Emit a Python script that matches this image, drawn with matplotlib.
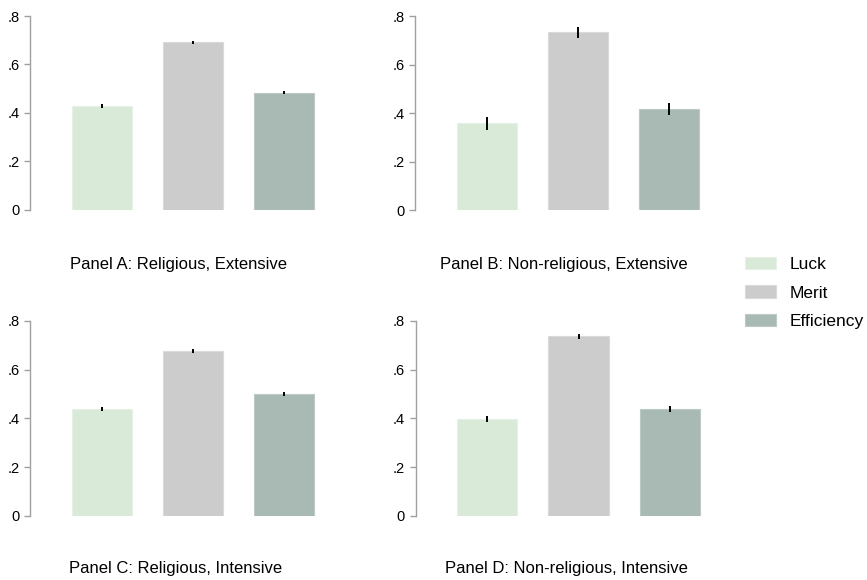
import matplotlib
matplotlib.use("Agg")
import matplotlib.pyplot as plt
from matplotlib.patches import Patch

plt.rcParams['font.family'] = ['Liberation Sans', 'DejaVu Sans']

categories = ["Luck", "Merit", "Efficiency"]
colors = ["#d9ead9", "#cccccc", "#a8bab3"]
edges = ["#e6f1e6", "#dadada", "#bccac4"]

panel_titles = ["Panel A: Religious, Extensive",
                "Panel B: Non-religious, Extensive",
                "Panel C: Religious, Intensive",
                "Panel D: Non-religious, Intensive"]

# mean shares and half-width of the confidence interval, per panel
means_a = [0.429, 0.691, 0.484]
err_a = [0.007, 0.005, 0.006]
means_b = [0.358, 0.733, 0.418]
err_b = [0.025, 0.022, 0.025]
means_c = [0.438, 0.677, 0.499]
err_c = [0.009, 0.007, 0.008]
means_d = [0.398, 0.737, 0.437]
err_d = [0.013, 0.010, 0.012]

yticks = [0, 0.2, 0.4, 0.6, 0.8]
ytick_labels = ["0", ".2", ".4", ".6", ".8"]

W, H = 867, 580
fig = plt.figure(figsize=(W / 100, H / 100), dpi=100)

# axes boxes in pixels: left, top (value .8), bottom (value 0)
boxes = [(30, 16, 210), (415, 16, 210.5), (30, 321, 515.7), (415.5, 321, 515.7)]
title_pos = [(178, 265), (564, 265), (176, 568), (566, 568)]
axw = 326

for i, (means, errs) in enumerate([(means_a, err_a), (means_b, err_b),
                                   (means_c, err_c), (means_d, err_d)]):
    left, top, bot = boxes[i]
    ax = fig.add_axes([left / W, 1 - bot / H, axw / W, (bot - top) / H])
    x = range(len(categories))
    ax.bar(x, means, width=0.66, color=colors, edgecolor=edges, linewidth=0.8)
    ax.errorbar(x, means, yerr=errs, fmt="none", ecolor="black",
                elinewidth=1.4, capsize=0)
    ax.set_xlim(-0.79, 2.79)
    ax.set_ylim(0, 0.8)
    ax.set_yticks(yticks)
    ax.set_yticklabels(ytick_labels)
    ax.set_xticks([])
    for s in ["top", "right", "bottom"]:
        ax.spines[s].set_visible(False)
    ax.spines["left"].set_color("#a0a0a0")
    ax.spines["left"].set_linewidth(1.0)
    ax.tick_params(axis="y", length=4.5, width=1.0, color="#a0a0a0",
                   labelsize=10.5, pad=3, labelcolor="black")
    ax.patch.set_visible(False)
    tx, ty = title_pos[i]
    fig.text(tx / W, 1 - ty / H, panel_titles[i], ha="center", va="center",
             fontsize=12)

handles = [Patch(facecolor=c, edgecolor=e, linewidth=0.8) for c, e in zip(colors, edges)]
fig.legend(handles, categories, loc="center left",
           bbox_to_anchor=(745 / W, 1 - 293 / H), frameon=False,
           borderpad=0, borderaxespad=0,
           fontsize=12.5, handlelength=1.8, handleheight=0.7,
           handletextpad=0.75, labelspacing=0.75)

fig.savefig("out.png", dpi=100, facecolor="white")
